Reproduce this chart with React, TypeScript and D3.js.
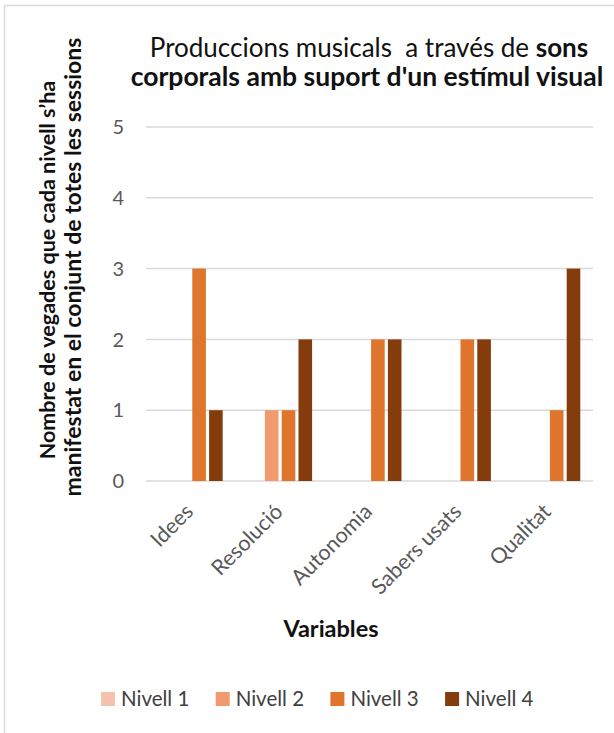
import React, { useEffect } from 'react';
import * as d3 from 'd3';

const categories = ['Idees', 'Resolució', 'Autonomia', 'Sabers usats', 'Qualitat'];
const series = ['Nivell 1', 'Nivell 2', 'Nivell 3', 'Nivell 4'];
const nivell1 = [0, 0, 0, 0, 0];
const nivell2 = [0, 1, 0, 0, 0];
const nivell3 = [3, 1, 2, 2, 1];
const nivell4 = [1, 2, 2, 2, 3];
const yTicks = [0, 1, 2, 3, 4, 5];
const colors = ['#F4C2AE', '#F09A6E', '#E0762D', '#843C0C'];

const W = 614;
const H = 733;
const FONT = 'Lato, "Open Sans", sans-serif';

export default function App() {
  useEffect(() => {
    document.body.style.margin = '0';
  }, []);

  const values = [nivell1, nivell2, nivell3, nivell4];
  const x0 = d3.scaleBand<string>().domain(categories).range([146, 593]);
  const groupW = 64;
  const x1 = d3.scaleBand<string>().domain(series).range([0, groupW]).paddingInner(0.19);
  const y = d3.scaleLinear().domain([0, 5]).range([481, 127]);
  const offset = (x0.bandwidth() - groupW) / 2;

  return (
    <svg width={W} height={H} style={{ display: 'block', background: '#fff' }} fontFamily={FONT}>
      <rect x={4.5} y={5.5} width={W + 20} height={H + 20} fill="none" stroke="#d9d9d9" strokeWidth={1.5} />

      {/* title */}
      <text x={369} y={57} textAnchor="middle" fontSize={26} fill="#111">
        Produccions musicals{'\u00a0\u00a0'}a través de <tspan fontWeight="bold">sons</tspan>
      </text>
      <text x={367} y={86} textAnchor="middle" fontSize={26.5} fontWeight="bold" fill="#111">
        corporals amb suport d'un estímul visual
      </text>

      {/* gridlines + ticks */}
      {yTicks.map(t => (
        <g key={t}>
          <line x1={146} x2={593} y1={y(t)} y2={y(t)} stroke="#d9d9d9" strokeWidth={1.5} />
          <text x={124} y={y(t)} dy="0.36em" textAnchor="end" fontSize={20} fill="#595959">
            {t}
          </text>
        </g>
      ))}

      {/* bars */}
      {categories.map((c, ci) => (
        <g key={c} transform={`translate(${(x0(c) ?? 0) + offset},0)`}>
          {series.map((s, si) => {
            const v = values[si][ci];
            if (!v) return null;
            return (
              <rect
                key={s}
                x={x1(s)}
                y={y(v)}
                width={x1.bandwidth()}
                height={y(0) - y(v)}
                fill={colors[si]}
              />
            );
          })}
        </g>
      ))}

      {/* category labels */}
      {categories.map(c => {
        const cx = (x0(c) ?? 0) + x0.bandwidth() / 2 + 4;
        return (
          <text
            key={c}
            transform={`translate(${cx},513) rotate(-45)`}
            textAnchor="end"
            fontSize={21.5}
            fill="#595959"
          >
            {c}
          </text>
        );
      })}

      {/* axis titles */}
      <text x={331} y={637} textAnchor="middle" fontSize={23.5} fontWeight="bold" fill="#111">
        Variables
      </text>
      <text transform="translate(55,270) rotate(-90)" textAnchor="middle" fontSize={21.5} fontWeight="bold" fill="#111">
        Nombre de vegades que cada nivell s’ha
      </text>
      <text transform="translate(81,267) rotate(-90)" textAnchor="middle" fontSize={23} fontWeight="bold" fill="#111">
        manifestat en el conjunt de totes les sessions
      </text>

      {/* legend */}
      {series.map((s, i) => (
        <g key={s} transform={`translate(${101 + i * 114.7},692)`}>
          <rect width={14} height={14} fill={colors[i]} />
          <text x={20} y={7} dy="0.36em" fontSize={20.5} fill="#404040">
            {s}
          </text>
        </g>
      ))}
    </svg>
  );
}
